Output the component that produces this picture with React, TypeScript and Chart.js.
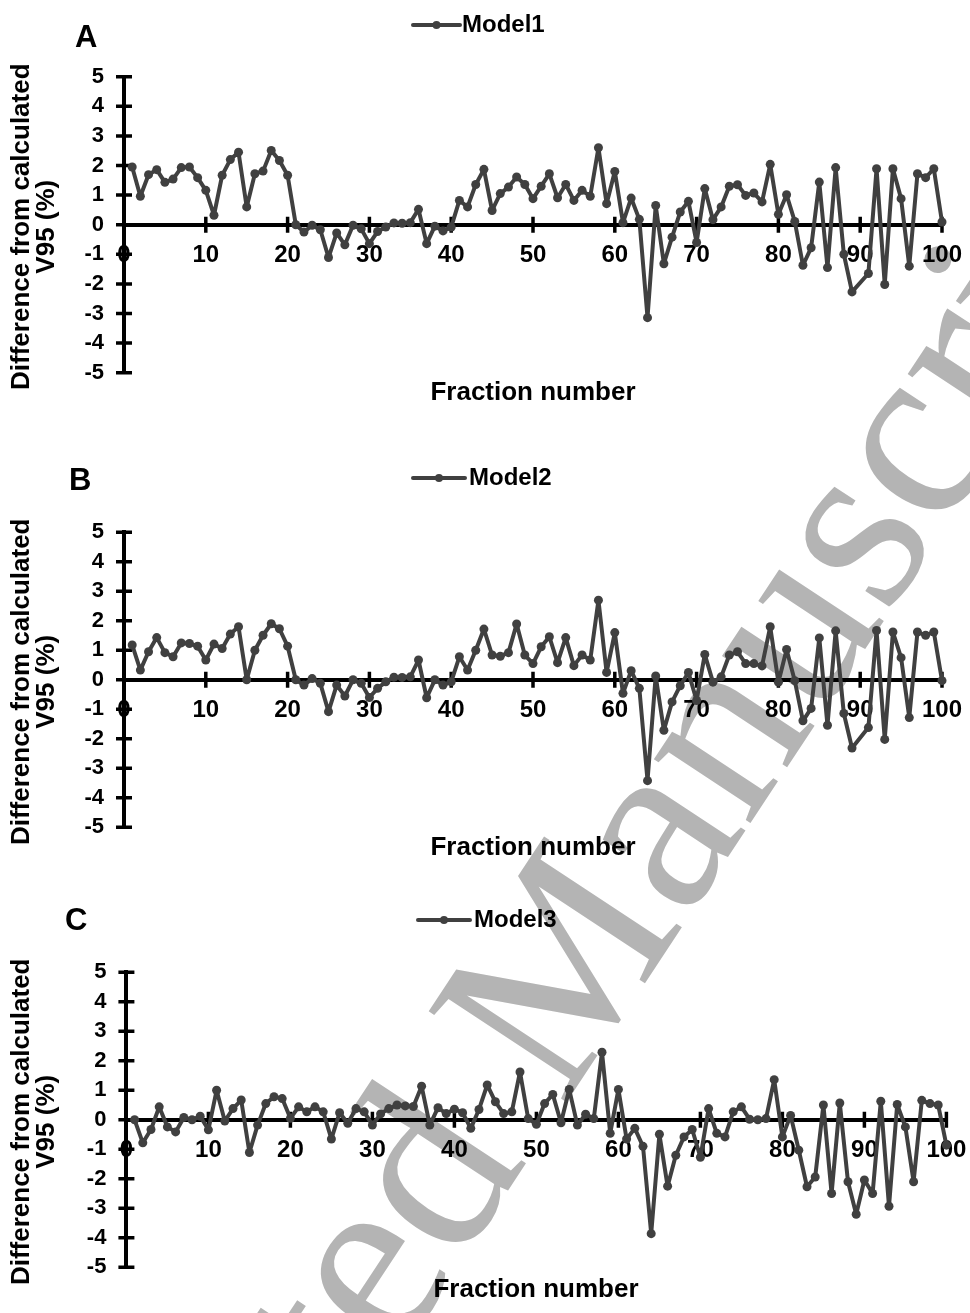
import React, { useEffect, useRef } from "react";
import { Chart, registerables } from "chart.js";

Chart.register(...registerables);

// ---------- data ----------
const fractions = [
  1, 2, 3, 4, 5, 6, 7, 8, 9, 10,
  11, 12, 13, 14, 15, 16, 17, 18, 19, 20,
  21, 22, 23, 24, 25, 26, 27, 28, 29, 30,
  31, 32, 33, 34, 35, 36, 37, 38, 39, 40,
  41, 42, 43, 44, 45, 46, 47, 48, 49, 50,
  51, 52, 53, 54, 55, 56, 57, 58, 59, 60,
  61, 62, 63, 64, 65, 66, 67, 68, 69, 70,
  71, 72, 73, 74, 75, 76, 77, 78, 79, 80,
  81, 82, 83, 84, 85, 86, 87, 88, 89, 90,
  91, 92, 93, 94, 95, 96, 97, 98, 99, 100,
];

const model1 = [
  1.95, 0.96, 1.69, 1.86, 1.43, 1.54, 1.93, 1.95, 1.59, 1.16,
  0.32, 1.67, 2.2, 2.45, 0.6, 1.72, 1.81, 2.51, 2.17, 1.67,
  0.0, -0.25, -0.02, -0.17, -1.11, -0.28, -0.68, -0.02, -0.14, -0.64,
  -0.23, -0.08, 0.06, 0.05, 0.07, 0.52, -0.64, -0.05, -0.21, -0.08,
  0.82, 0.6, 1.36, 1.87, 0.48, 1.05, 1.27, 1.61, 1.36, 0.88,
  1.3, 1.72, 0.91, 1.36, 0.82, 1.16, 0.96, 2.6, 0.71, 1.8,
  0.07, 0.9, 0.18, -3.14, 0.65, -1.32, -0.42, 0.43, 0.79, -0.6,
  1.22, 0.17, 0.6, 1.3, 1.35, 0.99, 1.07, 0.77, 2.04, 0.35,
  1.01, 0.11, -1.37, -0.78, 1.44, -1.45, 1.93, -1.0, -2.27, null,
  -1.65, 1.89, -2.02, 1.89, 0.88, -1.4, 1.72, 1.59, 1.89, 0.09,
];

const model2 = [
  1.18, 0.33, 0.95, 1.43, 0.92, 0.78, 1.25, 1.23, 1.14, 0.67,
  1.21, 1.06, 1.55, 1.8, 0.0, 1.0, 1.51, 1.9, 1.73, 1.14,
  0.0, -0.18, 0.04, -0.12, -1.08, -0.18, -0.55, 0.0, -0.12, -0.6,
  -0.29, -0.07, 0.09, 0.08, 0.1, 0.67, -0.61, 0.0, -0.18, -0.07,
  0.78, 0.33, 1.0, 1.72, 0.84, 0.8, 0.92, 1.89, 0.84, 0.55,
  1.12, 1.46, 0.58, 1.43, 0.48, 0.84, 0.67, 2.7, 0.25, 1.6,
  -0.46, 0.31, -0.29, -3.42, 0.13, -1.71, -0.75, -0.2, 0.25, -0.7,
  0.86, -0.08, 0.1, 0.84, 0.95, 0.55, 0.55, 0.47, 1.8, -0.08,
  1.03, -0.03, -1.39, -0.97, 1.42, -1.54, 1.66, -1.14, -2.31, null,
  -1.62, 1.67, -2.02, 1.62, 0.75, -1.28, 1.62, 1.51, 1.62, -0.03,
];

const model3 = [
  0.0, -0.78, -0.33, 0.44, -0.24, -0.41, 0.08, 0.0, 0.12, -0.34,
  1.0, -0.04, 0.38, 0.67, -1.11, -0.18, 0.55, 0.78, 0.72, 0.05,
  0.44, 0.27, 0.44, 0.27, -0.65, 0.24, -0.12, 0.38, 0.27, -0.18,
  0.2, 0.38, 0.5, 0.47, 0.45, 1.14, -0.18, 0.41, 0.21, 0.36,
  0.24, -0.29, 0.35, 1.18, 0.61, 0.21, 0.27, 1.62, 0.04, -0.15,
  0.55, 0.86, -0.1, 1.03, -0.18, 0.19, 0.04, 2.29, -0.46, 1.03,
  -0.65, -0.29, -0.9, -3.86, -0.49, -2.25, -1.2, -0.58, -0.33, -1.27,
  0.38, -0.46, -0.58, 0.27, 0.44, 0.02, 0.0, 0.04, 1.36, -0.58,
  0.15, -1.03, -2.27, -1.94, 0.5, -2.5, 0.57, -2.1, -3.2, -2.04,
  -2.5, 0.63, -2.93, 0.52, -0.24, -2.1, 0.66, 0.55, 0.5, -0.86,
];

const allSeries = [model1, model2, model3];
const seriesNames = ["Model1", "Model2", "Model3"];
const panelLetters = ["A", "B", "C"];
const xTickValues = [0, 10, 20, 30, 40, 50, 60, 70, 80, 90, 100];
const yTickValues = [-5, -4, -3, -2, -1, 0, 1, 2, 3, 4, 5];
const yAxisTitle = ["Difference from calculated", "V95 (%)"];
const xAxisTitle = "Fraction number";
const watermarkText = "Accepted Manuscript";

// ---------- layout / style (page coordinates) ----------
const FONT = '"Liberation Sans", Arial, sans-serif';
const LINE_COLOR = "#404040";
const WATERMARK = { x: 4, y: 1955, angleDeg: 56.6, size: 252, color: "rgb(180,180,180)" };

const layouts = [
  { canvasTop: 0, height: 440, left: 124, right: 942, top: 76.7, bottom: 372.7,
    letterX: 75, letterY: 38, legX1: 413, legX2: 460, legY: 25, legTextX: 462,
    titleX: 533, titleY: 393 },
  { canvasTop: 440, height: 440, left: 124, right: 942, top: 532.3, bottom: 827.3,
    letterX: 69, letterY: 481, legX1: 413, legX2: 465, legY: 478, legTextX: 469,
    titleX: 533, titleY: 848 },
  { canvasTop: 880, height: 433, left: 126.4, right: 946.4, top: 972.3, bottom: 1267.3,
    letterX: 65, letterY: 921, legX1: 418, legX2: 470, legY: 920, legTextX: 474,
    titleX: 536, titleY: 1290 },
];

function makeDecor(idx: number) {
  const L = layouts[idx];
  const off = L.canvasTop;
  return {
    id: "decor" + idx,
    beforeDraw(chart: any) {
      const ctx = chart.ctx;
      ctx.save();
      ctx.translate(WATERMARK.x, WATERMARK.y - off);
      ctx.rotate((-WATERMARK.angleDeg * Math.PI) / 180);
      ctx.fillStyle = WATERMARK.color;
      ctx.font = `${WATERMARK.size}px "Liberation Serif", "Times New Roman", serif`;
      ctx.textAlign = "left";
      ctx.textBaseline = "alphabetic";
      ctx.fillText(watermarkText, 0, 0);
      ctx.restore();
    },
    beforeDatasetsDraw(chart: any) {
      const ctx = chart.ctx;
      const xs = chart.scales.x;
      const ys = chart.scales.y;
      const x0 = xs.getPixelForValue(0);
      const y0 = ys.getPixelForValue(0);
      ctx.save();
      ctx.strokeStyle = "#000";
      ctx.lineWidth = 3.5;
      ctx.beginPath();
      yTickValues.forEach((v) => {
        const y = ys.getPixelForValue(v);
        ctx.moveTo(x0 - 8, y);
        ctx.lineTo(x0 + 8, y);
      });
      xTickValues.forEach((v) => {
        if (v === 0) return;
        const x = xs.getPixelForValue(v);
        ctx.moveTo(x, y0 - 8);
        ctx.lineTo(x, y0 + 8);
      });
      ctx.stroke();
      ctx.restore();
    },
    afterDraw(chart: any) {
      const ctx = chart.ctx;
      const ca = chart.chartArea;
      ctx.save();
      ctx.fillStyle = "#000";
      // panel letter
      ctx.font = `bold 31px ${FONT}`;
      ctx.textAlign = "left";
      ctx.textBaseline = "middle";
      ctx.fillText(panelLetters[idx], L.letterX, L.letterY - off);
      // legend
      const ly = L.legY - off;
      ctx.strokeStyle = LINE_COLOR;
      ctx.lineWidth = 4;
      ctx.lineCap = "round";
      ctx.beginPath();
      ctx.moveTo(L.legX1, ly);
      ctx.lineTo(L.legX2, ly);
      ctx.stroke();
      ctx.fillStyle = LINE_COLOR;
      ctx.beginPath();
      ctx.arc((L.legX1 + L.legX2) / 2, ly, 4, 0, Math.PI * 2);
      ctx.fill();
      ctx.fillStyle = "#000";
      ctx.font = `bold 24px ${FONT}`;
      ctx.fillText(chart.data.datasets[0].label, L.legTextX, ly);
      // x title
      ctx.textAlign = "center";
      ctx.font = `bold 26px ${FONT}`;
      ctx.fillText(xAxisTitle, L.titleX, L.titleY - off);
      // y title (rotated, two lines)
      const cy = (ca.top + ca.bottom) / 2 + 2;
      ctx.translate(0, cy);
      ctx.rotate(-Math.PI / 2);
      ctx.fillText(yAxisTitle[0], 0, 22);
      ctx.fillText(yAxisTitle[1], 0, 47);
      ctx.restore();
    },
  };
}

function Panel({ idx }: { idx: number }) {
  const ref = useRef<HTMLCanvasElement>(null);
  const L = layouts[idx];
  useEffect(() => {
    const values = allSeries[idx];
    const points = fractions.map((f, i) => ({ x: f, y: values[i] }));
    const chart = new Chart(ref.current as HTMLCanvasElement, {
      type: "line",
      data: {
        datasets: [
          {
            label: seriesNames[idx],
            data: points as any,
            borderColor: LINE_COLOR,
            backgroundColor: LINE_COLOR,
            borderWidth: 4,
            borderJoinStyle: "round",
            borderCapStyle: "round",
            pointRadius: 4.5,
            pointBorderWidth: 0,
            pointBackgroundColor: LINE_COLOR,
            tension: 0,
            spanGaps: true,
            clip: false as any,
          },
        ],
      },
      options: {
        animation: false,
        responsive: false,
        devicePixelRatio: 1,
        layout: {
          padding: {
            left: 0,
            right: 970 - L.right,
            top: L.top - L.canvasTop,
            bottom: L.height - (L.bottom - L.canvasTop),
          },
        },
        plugins: {
          legend: { display: false },
          tooltip: { enabled: false },
        },
        scales: {
          x: {
            type: "linear",
            min: 0,
            max: 100,
            position: { y: 0 } as any,
            afterBuildTicks: (s: any) => {
              s.ticks = xTickValues.map((v) => ({ value: v }));
            },
            afterFit: (s: any) => {
              s.paddingLeft = 0;
              s.paddingRight = 0;
            },
            grid: { display: false, drawTicks: false },
            border: { display: true, color: "#000", width: 4 },
            ticks: {
              autoSkip: false,
              maxRotation: 0,
              padding: 16,
              color: "#000",
              font: { family: FONT, size: 24, weight: "bold" },
            },
          },
          y: {
            type: "linear",
            min: -5,
            max: 5,
            afterBuildTicks: (s: any) => {
              s.ticks = yTickValues.map((v) => ({ value: v }));
            },
            afterFit: (s: any) => {
              s.width = L.left;
              s.paddingTop = 0;
              s.paddingBottom = 0;
            },
            grid: { display: false, drawTicks: false },
            border: { display: true, color: "#000", width: 4 },
            ticks: {
              padding: 20,
              color: "#000",
              font: { family: FONT, size: 22, weight: "bold" },
            },
          },
        },
      },
      plugins: [makeDecor(idx)],
    });
    return () => chart.destroy();
  }, []);
  return (
    <canvas
      ref={ref}
      width={970}
      height={L.height}
      style={{ position: "absolute", left: 0, top: L.canvasTop, width: 970, height: L.height }}
    />
  );
}

export default function App() {
  return (
    <div style={{ position: "absolute", left: 0, top: 0, width: 970, height: 1313, background: "#fff", overflow: "hidden" }}>
      <Panel idx={0} />
      <Panel idx={1} />
      <Panel idx={2} />
    </div>
  );
}
